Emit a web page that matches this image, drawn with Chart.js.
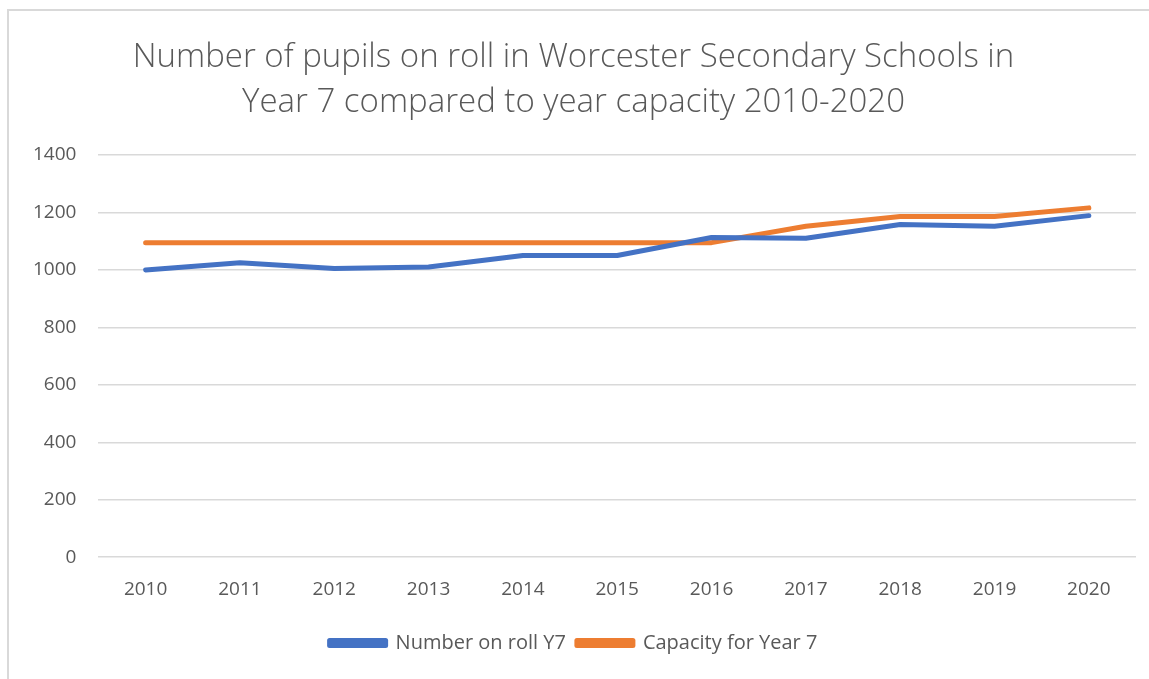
<!DOCTYPE html>
<html><head><meta charset="utf-8">
<script src="https://cdn.jsdelivr.net/npm/chart.js@4"></script>
<style>
html,body{margin:0;padding:0;background:#fff;overflow:hidden;}
#wrap{position:absolute;left:7px;top:9px;width:1160px;height:690px;border:2px solid #d9d9d9;box-sizing:border-box;}
</style></head><body>
<div id="wrap"></div>
<canvas id="c" width="1149" height="679" style="position:absolute;left:0;top:0;width:1149px;height:679px"></canvas>
<script>
const years = ['2010','2011','2012','2013','2014','2015','2016','2017','2018','2019','2020'];
const numberOnRoll = [1000,1025,1005,1010,1050,1050,1113,1110,1158,1152,1189];
const capacity = [1095,1095,1095,1095,1095,1095,1095,1152,1186,1186,1216];
const titleLines = ['Number of pupils on roll in Worcester Secondary Schools in','Year 7 compared to year capacity 2010-2020'];

const txt = '#595959';
const font = "'Open Sans', 'Liberation Sans', sans-serif";
new Chart(document.getElementById('c'), {
  type:'line',
  data:{labels:years,datasets:[
    {label:'Number on roll Y7',data:numberOnRoll,borderColor:'#4472C4',backgroundColor:'#4472C4',borderWidth:5,pointRadius:0,tension:0,borderCapStyle:'round',borderJoinStyle:'round'},
    {label:'Capacity for Year 7',data:capacity,borderColor:'#ED7D31',backgroundColor:'#ED7D31',borderWidth:5,pointRadius:0,tension:0,borderCapStyle:'round',borderJoinStyle:'round'}
  ]},
  options:{
    responsive:false,animation:false,
    layout:{padding:{left:11,right:13,top:35,bottom:16}},
    plugins:{
      title:{display:true,text:titleLines,color:txt,font:{family:font,size:33,weight:'300',lineHeight:1.364},padding:{top:0,bottom:30}},
      legend:{position:'bottom',labels:{color:txt,font:{family:font,size:20},boxWidth:56,boxHeight:5,padding:11}},
      tooltip:{enabled:false}
    },
    scales:{
      x:{offset:true,grid:{display:false,drawTicks:false},border:{display:false},
         ticks:{color:txt,font:{family:font,size:19},padding:21}},
      y:{min:0,max:1400,ticks:{stepSize:200,color:txt,font:{family:font,size:19},padding:22,callback:v=>String(v)},
         grid:{color:'#d9d9d9',lineWidth:1.5,drawTicks:false},border:{display:false}}
    }
  }
});
</script>
</body></html>
